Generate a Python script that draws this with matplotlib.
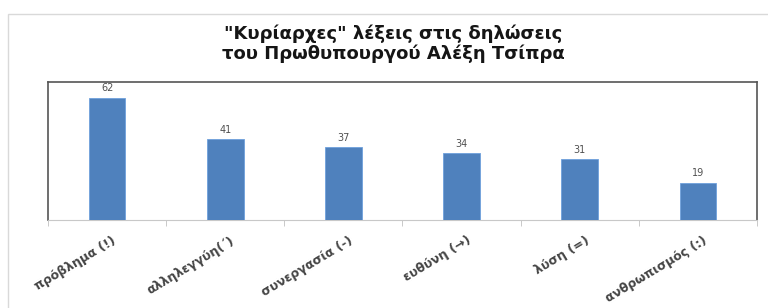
import matplotlib.pyplot as plt
import matplotlib.patches as patches
import matplotlib.transforms as mtransforms

plt.rcParams['font.family'] = ['DejaVu Sans']

words = ['πρόβλημα (!)', 'αλληλεγγύη(΄)', 'συνεργασία (-)', 'ευθύνη (→)', 'λύση (=)', 'ανθρωπισμός (:)']
counts = [62, 41, 37, 34, 31, 19]
title = '"Κυρίαρχες" λέξεις στις δηλώσεις\nτου Πρωθυπουργού Αλέξη Τσίπρα'

fig = plt.figure(figsize=(7.68, 3.08), dpi=100)
W, H = 768, 308

# outer chart frame
fig.patches.append(patches.Rectangle((8 / W, -0.1), 1.2, (H - 14) / H + 0.1, transform=fig.transFigure,
                                     fill=False, edgecolor='#d9d9d9', linewidth=1))

ax = fig.add_axes([48 / W, (H - 220) / H, (757 - 48) / W, (220 - 82) / H])
x = range(len(words))
ax.bar(x, counts, width=0.31, color='#4f81bd', edgecolor='#6fa0dc', linewidth=0.6, zorder=3)
for i, c in zip(x, counts):
    ax.text(i, c + 2.2, str(c), ha='center', va='bottom', fontsize=7, color='#505050')

ax.set_xlim(-0.5, len(words) - 0.5)
ax.set_ylim(0, 70)
ax.set_yticks([])
ax.set_xticks([i + 0.5 for i in range(-1, len(words))], minor=True)
ax.set_xticks(list(x))
ax.set_xticklabels(words, rotation=31, ha='right', va='top', rotation_mode='anchor',
                   fontsize=9, fontweight='bold', color='#454545')
ax.tick_params(axis='x', which='major', length=0, pad=10)
ax.tick_params(axis='x', which='minor', length=4, color='#c0c0c0', direction='out')
shift = mtransforms.ScaledTranslation(5 / 100, 0, fig.dpi_scale_trans)
for lab in ax.get_xticklabels():
    lab.set_transform(lab.get_transform() + shift)
for s in ['left', 'top', 'right']:
    ax.spines[s].set_color('#555555')
    ax.spines[s].set_linewidth(1.2)
ax.spines['bottom'].set_color('#c8c8c8')

fig.text(393 / W, (H - 44) / H, title, ha='center', va='center', fontsize=13, fontweight='bold',
         color='#151515', linespacing=1.12)

fig.savefig('out.png', dpi=100)
